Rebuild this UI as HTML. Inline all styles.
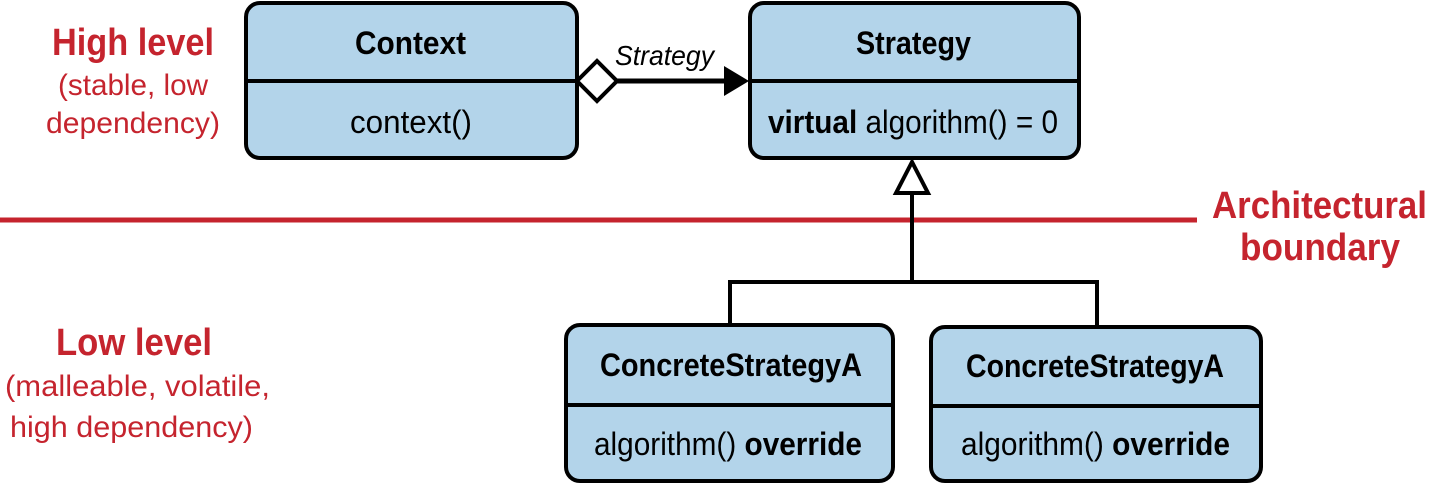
<!DOCTYPE html>
<html><head><meta charset="utf-8"><style>
html,body{margin:0;padding:0;background:#fff;}
svg{display:block;font-family:"Liberation Sans",sans-serif;}
</style></head><body>
<svg width="1429" height="486" viewBox="0 0 1429 486" xmlns="http://www.w3.org/2000/svg">
<line x1="0" y1="220" x2="1197" y2="220" stroke="#c5242e" stroke-width="5"/>
<g fill="#c5242e" text-anchor="start">
<text x="52" y="55" font-size="38" font-weight="bold" textLength="162" lengthAdjust="spacingAndGlyphs">High level</text>
<text x="58" y="95" font-size="30" textLength="150" lengthAdjust="spacingAndGlyphs">(stable, low</text>
<text x="46" y="133" font-size="30" textLength="174" lengthAdjust="spacingAndGlyphs">dependency)</text>
<text x="1212" y="218" font-size="38" font-weight="bold" textLength="215" lengthAdjust="spacingAndGlyphs">Architectural</text>
<text x="1240" y="260" font-size="38" font-weight="bold" textLength="160" lengthAdjust="spacingAndGlyphs">boundary</text>
<text x="56" y="355" font-size="38" font-weight="bold" textLength="156" lengthAdjust="spacingAndGlyphs">Low level</text>
<text x="5" y="396" font-size="30" textLength="265" lengthAdjust="spacingAndGlyphs">(malleable, volatile,</text>
<text x="10" y="437" font-size="30" textLength="243" lengthAdjust="spacingAndGlyphs">high dependency)</text>
</g>
<g stroke="#000" stroke-width="4" fill="#b3d4ea">
<rect x="246" y="3" width="331" height="155" rx="14"/>
<line x1="246" y1="81" x2="577" y2="81"/>
<rect x="750" y="3" width="329" height="155" rx="14"/>
<line x1="750" y1="81" x2="1079" y2="81"/>
<rect x="566" y="325" width="327" height="156" rx="14"/>
<line x1="566" y1="405" x2="893" y2="405"/>
<rect x="931" y="327" width="330" height="154" rx="14"/>
<line x1="931" y1="406" x2="1261" y2="406"/>
</g>
<line x1="617" y1="81" x2="728" y2="81" stroke="#000" stroke-width="5"/>
<polygon points="577,81 597,61 617,81 597,101" fill="#fff" stroke="#000" stroke-width="4"/>
<polygon points="724,66 749,81 724,96" fill="#000"/>
<text x="615" y="65" font-size="28" font-style="italic" textLength="99" lengthAdjust="spacingAndGlyphs">Strategy</text>
<g stroke="#000" stroke-width="4" fill="none">
<polyline points="912,193 912,282"/>
<polyline points="730,325 730,282 1097,282 1097,327"/>
<polygon points="912,162 896,193 928,193" fill="#fff"/>
</g>
<g font-size="32" fill="#000">
<text x="355" y="54" font-weight="bold" textLength="111" lengthAdjust="spacingAndGlyphs">Context</text>
<text x="350" y="133" textLength="122" lengthAdjust="spacingAndGlyphs">context()</text>
<text x="856" y="54" font-weight="bold" textLength="115" lengthAdjust="spacingAndGlyphs">Strategy</text>
<text x="768" y="133" textLength="290" lengthAdjust="spacingAndGlyphs"><tspan font-weight="bold">virtual</tspan> algorithm() = 0</text>
<text x="600" y="376" font-weight="bold" textLength="262" lengthAdjust="spacingAndGlyphs">ConcreteStrategyA</text>
<text x="594" y="455" textLength="268" lengthAdjust="spacingAndGlyphs">algorithm() <tspan font-weight="bold">override</tspan></text>
<text x="966" y="377" font-weight="bold" textLength="258" lengthAdjust="spacingAndGlyphs">ConcreteStrategyA</text>
<text x="961" y="455" textLength="269" lengthAdjust="spacingAndGlyphs">algorithm() <tspan font-weight="bold">override</tspan></text>
</g>
</svg>
</body></html>
